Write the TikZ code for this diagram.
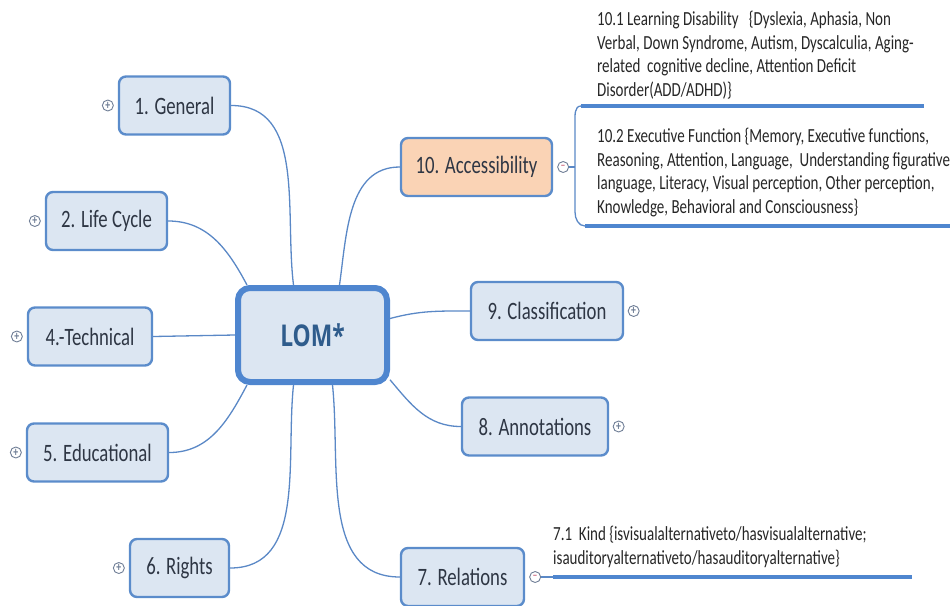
\documentclass[tikz,border=0pt]{standalone}
\usepackage{fontspec}
\setmainfont{Carlito}[FakeStretch=0.75]
\newfontfamily\hubfont{Open Sans}[FakeStretch=0.76]
\usetikzlibrary{positioning}
\definecolor{boxFill}{HTML}{DCE6F2}
\definecolor{boxLine}{HTML}{5B8CCB}
\definecolor{hubLine}{HTML}{4F86CF}
\definecolor{peachFill}{HTML}{FAD3B5}
\definecolor{linkBlue}{HTML}{5A88C6}
\definecolor{labelInk}{HTML}{2E3644}
\definecolor{hubInk}{HTML}{2F5C8C}
\definecolor{toggleGray}{HTML}{6F7E96}
\definecolor{minusPink}{HTML}{D47F92}

\tikzset{
  branch/.style={draw=boxLine, line width=2.4pt, fill=boxFill, rounded corners=7pt,
    minimum height=58pt, inner sep=0pt, text=labelInk, font=\fontsize{25}{28}\selectfont},
  hub/.style={draw=hubLine, line width=6pt, fill=boxFill, rounded corners=12pt,
    minimum width=149pt, minimum height=94pt, inner sep=0pt, text=hubInk,
    font=\hubfont\fontsize{30}{34}\selectfont\bfseries},
  toggle/.style={circle, draw=toggleGray, line width=0.9pt, fill=white,
    minimum size=11pt, inner sep=0pt, font=\fontsize{13}{13}\selectfont\bfseries, text=toggleGray},
  link/.style={draw=linkBlue, line width=1.3pt},
  twig/.style={draw=hubLine, line width=4pt},
  leaf/.style={anchor=north west, align=left, inner sep=0pt, text=black!85,
    font=\fontsize{20}{23.5}\selectfont},
}

\begin{document}
\begin{tikzpicture}[x=1pt, y=-1pt]
  \useasboundingbox (0,0) rectangle (950,605);

  % central topic
  \node[hub] (lom) at (312.5,335) {LOM*};

  % left branches
  \node[branch, minimum width=111pt] (general) at (174.5,105.5) {1. General};
  \node[branch, minimum width=121pt] (lifecycle) at (106.5,221) {2. Life Cycle};
  \node[branch, minimum width=124pt] (technical) at (90,336.5) {4.-Technical};
  \node[branch, minimum width=141pt] (educational) at (97.5,452.5) {5. Educational};
  \node[branch, minimum width=99pt] (rights) at (179.5,568) {6. Rights};

  % right branches
  \node[branch, minimum width=151pt, fill=peachFill] (access) at (476.5,167) {10. Accessibility};
  \node[branch, minimum width=152pt] (classif) at (547,311) {9. Classification};
  \node[branch, minimum width=146pt] (annot) at (535,426.5) {8. Annotations};
  \node[branch, minimum width=123pt] (relations) at (462.5,577) {7. Relations};

  % expand / collapse marks
  \foreach \b in {general, lifecycle, technical, educational, rights} {
    \node[toggle, left=4pt of \b] (\b-t) {+};
  }
  \foreach \b in {classif, annot} {
    \node[toggle, right=3.5pt of \b] (\b-t) {+};
  }
  \node[toggle, right=4pt of access] (access-t) {\color{minusPink}–};
  \node[toggle, right=4pt of relations] (relations-t) {\color{minusPink}–};

  % links from the hub
  \draw[link] ([xshift=-19pt]lom.north) to[out=97, in=0] (general.east);
  \draw[link] ([xshift=12pt]lom.north west) to[out=118, in=0] (lifecycle.east);
  \draw[link] (lom.west) -- (technical.east);
  \draw[link] ([xshift=12pt]lom.south west) to[out=-118, in=0] (educational.east);
  \draw[link] ([xshift=-19pt]lom.south) to[out=-96, in=0] (rights.east);
  \draw[link] ([xshift=27pt]lom.north) to[out=82, in=180] (access.west);
  \draw[link] (lom.12) to[out=15, in=180] (classif.west);
  \draw[link] (lom.-30) to[out=-50, in=180] (annot.west);
  \draw[link] ([xshift=20pt]lom.south) to[out=-84, in=180] (relations.west);

  % 10.x details
  \node[leaf] (lead101) at (597,11) {10.1 Learning Disability\ \ \ \{Dyslexia, Aphasia, Non\\
    Verbal, Down Syndrome, Autism, Dyscalculia, Aging-\\
    related\ \ cognitive decline, Attention Deficit\\
    Disorder(ADD/ADHD)\}};
  \node[leaf] (lead102) at (597,128) {10.2 Executive Function \{Memory, Executive functions,\\
    Reasoning, Attention, Language,\ \ Understanding figurative\\
    language, Literacy, Visual perception, Other perception,\\
    Knowledge, Behavioral and Consciousness\}};
  \coordinate (brace-top) at (581,106);
  \coordinate (brace-bot) at (585,226);
  \draw[twig] (brace-top) -- (924,106);
  \draw[twig] (brace-bot) -- (950,226);
  \draw[link] (brace-top) to[out=180, in=90] (575,122) -- (575,212) to[out=-90, in=180] (brace-bot);
  \draw[link] (access-t.east) -- (575,167);

  % 7.x details
  \node[leaf] (lead71) at (553,526) {7.1\ \ Kind \{isvisualalternativeto/hasvisualalternative;\\
    isauditoryalternativeto/hasauditoryalternative\}};
  \coordinate (kind-start) at (553,577);
  \draw[link] (relations-t.east) -- (kind-start);
  \draw[twig] (kind-start) -- (912,577);
\end{tikzpicture}
\end{document}
